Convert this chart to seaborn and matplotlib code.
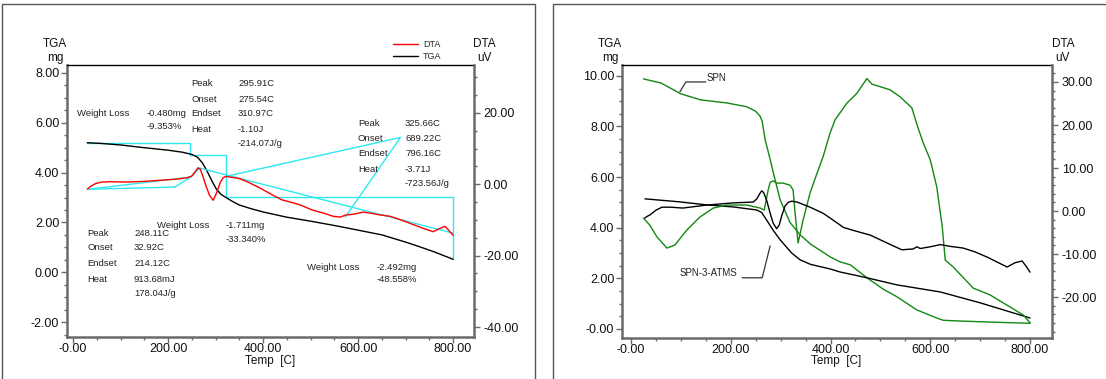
import matplotlib
matplotlib.use("Agg")
import matplotlib.pyplot as plt
from matplotlib.ticker import MultipleLocator, FixedLocator, FixedFormatter
from matplotlib.lines import Line2D
from matplotlib.patches import Rectangle
import seaborn as sns

# ---------------- left panel: one sample, TGA (mg) + DTA (uV) ----------------
temp_tga_a = [30, 60, 100, 150, 200, 230, 250, 262, 272, 282, 292, 302, 312, 322,
              335, 350, 375, 400, 450, 500, 555, 600, 650, 700, 730, 760, 800]
tga_a = [5.20, 5.17, 5.11, 5.00, 4.90, 4.82, 4.73, 4.62, 4.40, 4.07, 3.68, 3.33, 3.12, 3.00,
         2.85, 2.70, 2.55, 2.42, 2.21, 2.05, 1.86, 1.69, 1.50, 1.21, 1.02, 0.82, 0.52]

temp_dta_a = [30, 38, 48, 60, 80, 113, 150, 183, 215, 240, 250, 256, 263, 268, 274, 280,
              287, 295, 302, 310, 316, 322, 335, 350, 370, 394, 421, 440, 463, 478, 505,
              530, 548, 562, 575, 590, 611, 630, 646, 668, 688, 720, 740, 758, 770, 783,
              790, 800]
dta_a = [-1.4, -0.5, 0.2, 0.6, 0.7, 0.6, 0.8, 1.1, 1.4, 1.8, 2.3, 3.3, 4.6, 4.2, 2.0, -0.5,
         -3.0, -4.5, -2.5, 0.5, 1.8, 2.2, 1.9, 1.6, 0.5, -1.1, -3.1, -4.4, -5.2, -5.8, -7.3,
         -8.2, -9.0, -9.2, -8.6, -8.4, -7.8, -8.2, -8.6, -9.0, -9.9, -11.5, -12.5, -13.3,
         -12.5, -11.8, -12.8, -14.3]

# weight-loss steps
step_temps = [30, 246, 322, 800]
tga_start = 5.20
loss_mg = [-0.480, -1.711, -2.492]
loss_pct = [-9.353, -33.340, -48.558]

# DTA peak evaluation (peak / onset / endset) and construction lines
peak1 = [248.11, 32.92, 214.12]
peak1_heat = ["913.68mJ", "178.04J/g"]
peak2 = [295.91, 275.54, 310.97]
peak2_heat = ["-1.10J", "-214.07J/g"]
peak3 = [325.66, 689.22, 796.16]
peak3_heat = ["-3.71J", "-723.56J/g"]
base_temps = [32.92, 214.12, 248.11, 267, 322, 800, 689.22, 573]
base_dta = [-1.4, -0.8, 2.0, 4.5, 2.2, -13.7, 13.1, -9.2]

# ---------------- right panel: SPN vs SPN-3-ATMS ----------------
temp_tga_spn = [25, 60, 100, 140, 192, 232, 250, 259, 263, 269, 279, 285, 299, 319, 339,
                360, 399, 419, 440, 473, 505, 533, 573, 613, 626, 660, 720, 800]
tga_spn = [9.88, 9.72, 9.29, 9.05, 8.93, 8.78, 8.60, 8.40, 8.20, 7.47, 6.70, 6.20, 5.10,
           4.20, 3.72, 3.35, 2.85, 2.65, 2.53, 2.02, 1.58, 1.27, 0.75, 0.43, 0.34, 0.31,
           0.27, 0.22]

temp_dta_spn = [25, 38, 52, 72, 88, 112, 138, 165, 192, 232, 259, 267, 275, 279, 285, 293,
                305, 319, 325, 329, 335, 345, 359, 373, 385, 399, 409, 433, 453, 473, 483,
                519, 540, 563, 575, 586, 600, 613, 624, 630, 646, 686, 720, 760, 787, 800]
dta_spn = [-1.6, -3.3, -6.0, -8.6, -7.9, -4.4, -1.4, 0.7, 1.4, 1.4, 0.7, 0.2, 4.9, 6.7, 7.0,
           6.5, 6.5, 6.0, 4.9, -0.5, -7.4, -2.1, 4.2, 8.8, 12.6, 18.1, 21.2, 25.1, 27.4,
           30.8, 29.5, 28.2, 26.5, 24.0, 19.5, 15.8, 11.9, 5.6, -3.7, -11.4, -13.0, -17.9,
           -19.5, -22.3, -24.2, -26.0]

temp_tga_atms = [28, 98, 152, 205, 252, 262, 272, 285, 299, 322, 339, 360, 399, 419, 473,
                 533, 620, 700, 760, 800]
tga_atms = [5.14, 5.02, 4.90, 4.82, 4.70, 4.60, 4.30, 3.90, 3.52, 3.00, 2.73, 2.55, 2.37,
            2.25, 2.02, 1.74, 1.46, 1.03, 0.67, 0.43]

temp_dta_atms = [28, 33, 38, 50, 62, 80, 104, 152, 205, 245, 252, 258, 262, 266, 272, 279,
                 285, 292, 297, 303, 309, 315, 322, 333, 359, 385, 399, 426, 446, 480, 513,
                 543, 566, 573, 580, 600, 620, 640, 666, 690, 714, 754, 770, 784, 792, 800]
dta_atms = [-1.6, -1.2, -0.9, 0.2, 0.9, 0.9, 0.7, 1.4, 1.9, 2.1, 2.8, 4.0, 4.7, 4.3, 2.5,
            -0.5, -2.8, -4.1, -3.3, -0.8, 1.2, 2.0, 2.3, 2.1, 0.9, -0.5, -1.6, -3.8, -4.5,
            -5.6, -7.4, -9.0, -8.8, -8.3, -8.7, -8.3, -7.8, -8.2, -8.6, -9.5, -10.7, -13.0,
            -12.0, -11.6, -12.8, -14.2]

x_ticks = [0, 200, 400, 600, 800]
x_labels = ["-0.00", "200.00", "400.00", "600.00", "800.00"]
tga_ticks_a = [-2, 0, 2, 4, 6, 8]
tga_labels_a = ["-2.00", "0.00", "2.00", "4.00", "6.00", "8.00"]
dta_ticks_a = [-40, -20, 0, 20]
dta_labels_a = ["-40.00", "-20.00", "0.00", "20.00"]
tga_ticks_b = [0, 2, 4, 6, 8, 10]
tga_labels_b = ["-0.00", "2.00", "4.00", "6.00", "8.00", "10.00"]
dta_ticks_b = [-20, -10, 0, 10, 20, 30]
dta_labels_b = ["-20.00", "-10.00", "0.00", "10.00", "20.00", "30.00"]

# ---------------- figure ----------------
sns.set_style("white")
plt.rcParams["font.family"] = ["Liberation Sans", "DejaVu Sans"]

W, H = 1106, 379
fig = plt.figure(figsize=(W / 100, H / 100), dpi=100)


def rect(l, t, r, b):
    return [l / W, 1 - b / H, (r - l) / W, (b - t) / H]


def ftext(px, py, s, size=6.8, ha="left", color="#222222"):
    fig.text(px / W, 1 - py / H, s, fontsize=size, ha=ha, va="center", color=color)


SPINE = "#6a6a6a"


def dress(ax, ax2, xlim, ylim, y2lim, yt, yl, y2t, y2l, ymin, y2min):
    ax.set_xlim(*xlim)
    ax.set_ylim(*ylim)
    ax2.set_ylim(*y2lim)
    ax.xaxis.set_major_locator(FixedLocator(x_ticks))
    ax.xaxis.set_major_formatter(FixedFormatter(x_labels))
    ax.xaxis.set_minor_locator(MultipleLocator(50))
    ax.yaxis.set_major_locator(FixedLocator(yt))
    ax.yaxis.set_major_formatter(FixedFormatter(yl))
    ax.yaxis.set_minor_locator(MultipleLocator(ymin))
    ax2.yaxis.set_major_locator(FixedLocator(y2t))
    ax2.yaxis.set_major_formatter(FixedFormatter(y2l))
    ax2.yaxis.set_minor_locator(MultipleLocator(y2min))
    for a in (ax, ax2):
        a.tick_params(which="major", direction="out", length=4, width=1, color=SPINE,
                      labelsize=9, labelcolor="#111111", pad=1.5)
        a.tick_params(which="minor", direction="out", length=2.5, width=1, color=SPINE)
    ax.tick_params(axis="x", which="both", bottom=True)
    ax.tick_params(axis="x", which="major", pad=0.5)
    ax.tick_params(axis="y", which="both", left=True)
    ax2.tick_params(axis="y", which="both", right=True)
    ax2.tick_params(axis="y", which="major", pad=3)
    ax.set_xlabel("")
    ax.set_ylabel("")
    ax2.set_ylabel("")
    for s in ("left", "bottom"):
        ax.spines[s].set_color(SPINE)
        ax.spines[s].set_linewidth(1.8)
    ax.spines["right"].set_visible(False)
    ax.spines["top"].set_color("black")
    ax.spines["top"].set_linewidth(1.0)
    ax2.spines["right"].set_color(SPINE)
    ax2.spines["right"].set_linewidth(1.8)
    for s in ("left", "bottom", "top"):
        ax2.spines[s].set_visible(False)
    ax.grid(False)
    ax2.grid(False)


line_kw = dict(lw=1.0, legend=False, estimator=None, sort=False)
CYAN = "#2ee8f0"

# ---- left panel ----
axA = fig.add_axes(rect(67, 65, 474, 337))
axA2 = axA.twinx()

# weight-loss step construction (TGA scale)
levels = [tga_start]
for d in loss_mg:
    levels.append(levels[-1] + d)
sx, sy = [step_temps[0]], [levels[0]]
for i in range(1, len(step_temps)):
    sx += [step_temps[i], step_temps[i]]
    sy += [levels[i - 1], levels[i]]
axA.plot(sx, sy, color=CYAN, lw=1.0, zorder=2)
sns.lineplot(x=temp_tga_a, y=tga_a, ax=axA, color="black", zorder=3, **line_kw)

# DTA peak construction lines (DTA scale)
P = list(zip(base_temps, base_dta))
segs = [(0, 2), (0, 1), (1, 2), (2, 3), (3, 5), (4, 6), (6, 7)]
for i, j in segs:
    axA2.plot([P[i][0], P[j][0]], [P[i][1], P[j][1]], color=CYAN, lw=1.0, zorder=2)
sns.lineplot(x=temp_dta_a, y=dta_a, ax=axA2, color="red", zorder=3, **line_kw)

dress(axA, axA2, (-12.6, 844), (-2.6, 8.32), (-42.8, 33.4),
      tga_ticks_a, tga_labels_a, dta_ticks_a, dta_labels_a, 0.5, 5)

axA2.legend(handles=[Line2D([], [], color="red", lw=1), Line2D([], [], color="black", lw=1)],
            labels=["DTA", "TGA"], loc="upper left",
            bbox_to_anchor=(393 / W, 1 - 40 / H), bbox_transform=fig.transFigure,
            frameon=False, fontsize=6.5, handlelength=2.8, handletextpad=0.5,
            borderpad=0, borderaxespad=0, labelspacing=0.35)

# axis titles
ftext(55, 44, "TGA", 8.5, "center", "#111111")
ftext(55, 58, "mg", 8.5, "center", "#111111")
ftext(484, 44, "DTA", 8.5, "center", "#111111")
ftext(484, 58, "uV", 8.5, "center", "#111111")
ftext(270, 361, "Temp  [C]", 8.5, "center", "#111111")

rows = ["Peak", "Onset", "Endset", "Heat"]


def peak_block(x0, x1, ys, vals, heat):
    txt = [f"{v:.2f}C" for v in vals] + heat
    for k, r in enumerate(rows):
        ftext(x0, ys[k], r)
    for k, t in enumerate(txt):
        ftext(x1, ys[k], t)


peak_block(191, 238, [84, 99, 114, 130, 144], peak2, peak2_heat)
peak_block(358, 405, [124, 139, 154, 170, 184], peak3, peak3_heat)
peak_block(87, 134, [233, 248, 263, 279, 293], peak1, peak1_heat)


def loss_block(x0, x1, y0, y1, mg, pct):
    ftext(x0, y0, "Weight Loss")
    ftext(x1, y0, f"{mg:.3f}mg")
    ftext(x1, y1, f"{pct:.3f}%")


loss_block(77, 147, 114, 127, loss_mg[0], loss_pct[0])
loss_block(157, 226, 226, 239, loss_mg[1], loss_pct[1])
loss_block(307, 377, 267, 280, loss_mg[2], loss_pct[2])

# ---- right panel ----
axB = fig.add_axes(rect(622, 65, 1052, 338))
axB2 = axB.twinx()
sns.lineplot(x=temp_tga_spn, y=tga_spn, ax=axB, color="#118811", **line_kw)
sns.lineplot(x=temp_tga_atms, y=tga_atms, ax=axB, color="black", **line_kw)
sns.lineplot(x=temp_dta_spn, y=dta_spn, ax=axB2, color="#118811", **line_kw)
sns.lineplot(x=temp_dta_atms, y=dta_atms, ax=axB2, color="black", **line_kw)

dress(axB, axB2, (-18, 844), (-0.36, 10.43), (-29.5, 33.95),
      tga_ticks_b, tga_labels_b, dta_ticks_b, dta_labels_b, 0.5, 2)

# curve labels with leader lines
axB.plot([98, 110, 150], [9.37, 9.76, 9.76], color="#333333", lw=0.9)
axB.text(152, 9.93, "SPN", fontsize=7, va="center", ha="left", color="#222222")
axB.plot([223, 263, 279], [2.02, 2.02, 3.28], color="#333333", lw=0.9)
axB.text(98, 2.22, "SPN-3-ATMS", fontsize=7, va="center", ha="left", color="#222222")

ftext(610, 44, "TGA", 8.5, "center", "#111111")
ftext(610, 58, "mg", 8.5, "center", "#111111")
ftext(1063, 44, "DTA", 8.5, "center", "#111111")
ftext(1063, 58, "uV", 8.5, "center", "#111111")
ftext(836, 361, "Temp  [C]", 8.5, "center", "#111111")

# panel frames
for (l, t, r, b) in [(2, 4, 535, 385), (553, 4, 1115, 385)]:
    fig.add_artist(Rectangle((l / W, 1 - b / H), (r - l) / W, (b - t) / H,
                             transform=fig.transFigure, fill=False,
                             edgecolor="#555555", lw=1.0))

fig.savefig("out.png", dpi=100)
